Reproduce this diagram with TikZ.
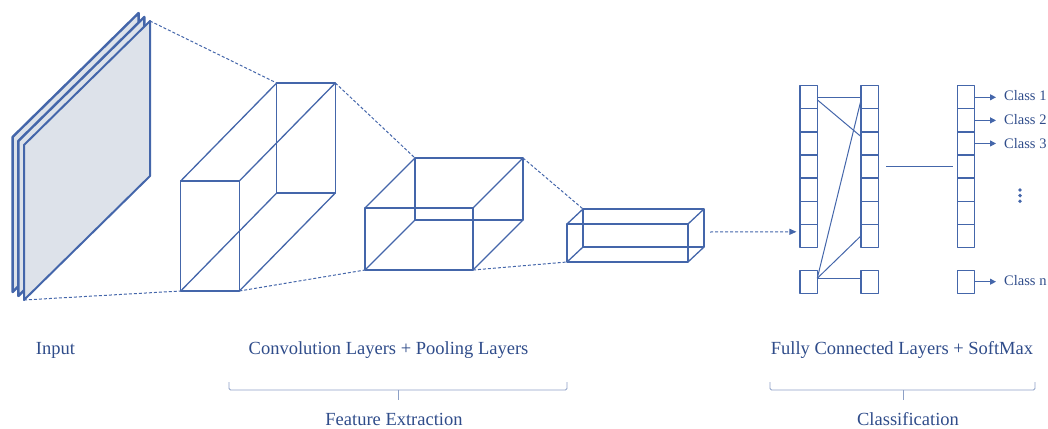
\documentclass[tikz,border=0pt]{standalone}
\usepackage{fontspec}
\setmainfont{Liberation Serif}
\usetikzlibrary{arrows.meta,calc}
\definecolor{cnnblue}{HTML}{4466AA}
\definecolor{txtblue}{HTML}{2F4C8A}
\definecolor{planefill}{HTML}{DDE2EA}
\definecolor{bracec}{HTML}{8DA0C6}
\newcommand\drawcuboid[7]{%
  \coordinate (#1-ftl) at (#2,#3);
  \coordinate (#1-ftr) at (#4,#3);
  \coordinate (#1-fbr) at (#4,#5);
  \coordinate (#1-fbl) at (#2,#5);
  \coordinate (#1-btl) at ($(#1-ftl)+(#6,#7)$);
  \coordinate (#1-btr) at ($(#1-ftr)+(#6,#7)$);
  \coordinate (#1-bbr) at ($(#1-fbr)+(#6,#7)$);
  \coordinate (#1-bbl) at ($(#1-fbl)+(#6,#7)$);
  \draw[edge] (#1-ftl) -- (#1-ftr) -- (#1-fbr) -- (#1-fbl) -- cycle;
  \draw[edge] (#1-btl) -- (#1-btr) -- (#1-bbr) -- (#1-bbl) -- cycle;
  \draw[edge] (#1-ftl) -- (#1-btl) (#1-ftr) -- (#1-btr) (#1-fbr) -- (#1-bbr) (#1-fbl) -- (#1-bbl);
}
\begin{document}
\begin{tikzpicture}[x=1pt,y=-1pt,line join=round,
  edge/.style={draw=cnnblue,line width=1.3pt},
  proj/.style={draw=cnnblue,line width=1pt,dash pattern=on 3pt off 2pt},
  plane/.style={draw=cnnblue,line width=2pt,fill=planefill},
  cell/.style={draw=cnnblue,line width=1.2pt,minimum width=17.3pt,minimum height=23.1pt,inner sep=0pt,outer sep=0pt},
  conn/.style={draw=cnnblue,line width=1pt},
  lbl/.style={text=txtblue,font=\fontsize{18.5}{22}\selectfont,inner sep=0pt},
  cls/.style={text=txtblue,font=\fontsize{14.5}{17}\selectfont,inner sep=0pt,anchor=west},
  brace/.style={draw=bracec,line width=0.9pt,rounded corners=1.5pt},
  tip/.style={-{Triangle[length=6pt,width=6pt]}}]
\useasboundingbox (0,0) rectangle (1048,428);

% input planes
\coordinate (pTL) at (24,145);
\coordinate (pTR) at (150,21);
\coordinate (pBR) at (150,176);
\coordinate (pBL) at (24,300);
\foreach \s in {2,1}{
  \draw[plane,line width=2.4pt] ($(pTL)+(-5.7*\s,-4*\s)$) -- ($(pTR)+(-5.7*\s,-4*\s)$) -- ($(pBR)+(-5.7*\s,-4*\s)$) -- ($(pBL)+(-5.7*\s,-4*\s)$) -- cycle;
}
\draw[plane] (pTL) -- (pTR) -- (pBR) -- (pBL) -- cycle;

% cuboids
\drawcuboid{b1}{180.7}{181}{239.3}{291}{96}{-98}
\drawcuboid{b2}{365}{208}{473}{270}{50}{-50}
\drawcuboid{b3}{567}{224}{688}{262}{16}{-15}

% projection lines
\draw[proj] (pTR) -- (b1-btl);
\draw[proj] (pBL) -- (b1-fbl);
\draw[proj] (b1-btr) -- (b2-btl);
\draw[proj] (b1-fbr) -- (b2-fbl);
\draw[proj] (b2-btr) -- (b3-btl);
\draw[proj] (b2-fbr) -- (b3-fbl);

% fully connected columns
\foreach \k in {1,...,7}{
  \node[cell] (c1-\k) at (808.6,{97.3+(\k-1)*23.08}) {};
  \node[cell] (c2-\k) at (869.7,{97.3+(\k-1)*23.08}) {};
  \node[cell] (c3-\k) at (966,{97.3+(\k-1)*23.08}) {};
}
\node[cell] (c1-n) at (808.6,281.7) {};
\node[cell] (c2-n) at (869.7,281.7) {};
\node[cell] (c3-n) at (966,281.7) {};

% dashed arrow into FC
\coordinate (arrS) at (710,232);
\draw[proj,-{Triangle[length=7pt,width=6pt]}] (arrS) -- ([xshift=-3.5pt,yshift=4pt]c1-7.west);

% connections
\draw[conn] (c1-1.east) -- (c2-1.west);
\draw[conn] ([yshift=-2.5pt]c1-1.east) -- ([yshift=-4.7pt]c2-3.north west);
\draw[conn] ([yshift=3.4pt]c1-n.east) -- ([yshift=-2.5pt]c2-1.west);
\draw[conn] ([yshift=3.4pt]c1-n.east) -- (c2-7.west);
\draw[conn] ([yshift=3.4pt]c1-n.east) -- ([yshift=3.4pt]c2-n.west);
\draw[conn] ([xshift=8pt]c2-4.east) -- ([xshift=-4.5pt]c3-4.west);

% class labels
\node[cls] (L1) at (1004,95.5) {Class 1};
\node[cls] (L2) at (1004,119.5) {Class 2};
\node[cls] (L3) at (1004,143.5) {Class 3};
\node[cls] (Ln) at (1004,281) {Class n};
\draw[conn,tip] (c3-1.east) -- ([xshift=-8pt]c3-1.east -| L1.west);
\draw[conn,tip] (c3-2.east) -- ([xshift=-8pt]c3-2.east -| L2.west);
\draw[conn,tip] (c3-3.east) -- ([xshift=-8pt]c3-3.east -| L3.west);
\draw[conn,tip] (c3-n.east) -- ([xshift=-8pt]c3-n.east -| Ln.west);
\foreach \yy in {190,195.6,201.2}{
  \fill[cnnblue] (1020,\yy) circle (1.9pt);
}

% labels and braces
\node[lbl] (tin) at (55.5,350) {Input};
\node[lbl] (tconv) at (388.5,350) {Convolution Layers + Pooling Layers};
\node[lbl] (tfc) at (902,350) {Fully Connected Layers + SoftMax};
\node[lbl] (tfe) at (394,419) {Feature Extraction};
\node[lbl] (tcl) at (908,419) {Classification};
\draw[brace] (229,382) -- (229,390) -- (567,390) -- (567,382);
\draw[brace] (398,390) -- (398,400);
\draw[brace] (770,382) -- (770,390) -- (1035,390) -- (1035,382);
\draw[brace] (903,390) -- (903,400);
\end{tikzpicture}
\end{document}
